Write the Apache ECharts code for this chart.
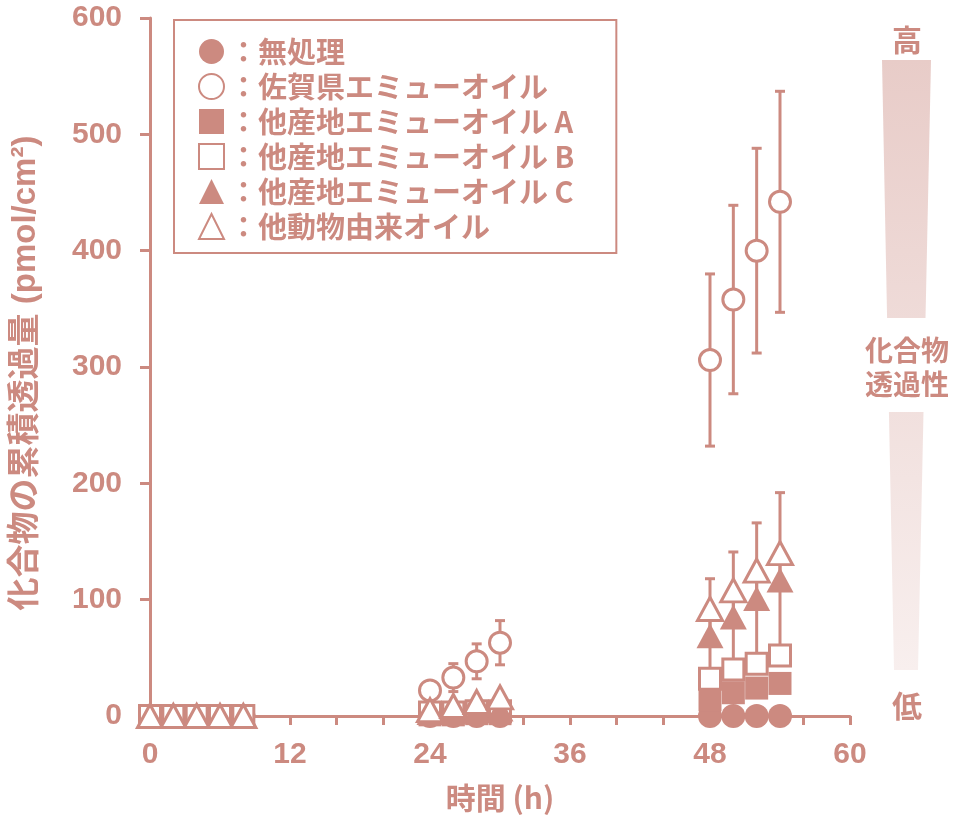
<!DOCTYPE html>
<html>
<head>
<meta charset="utf-8">
<script src="https://cdn.jsdelivr.net/npm/echarts@6/dist/echarts.min.js"></script>
<style>
  html, body { margin: 0; padding: 0; background: #fff; }
  #chart { width: 955px; height: 829px; }
</style>
</head>
<body>
<div id="chart"></div>
<script>
// 測定時間 (h)
var times = [0, 2, 4, 6, 8, 24, 26, 28, 30, 48, 50, 52, 54];

// 各試料の累積透過量と誤差 (上側・下側)
var mushoriVals = [0, 0, 0, 0, 0, 0, 0, 0, 0, 0, 0, 0, 0];
var mushoriErrUp = [0, 0, 0, 0, 0, 0, 0, 0, 0, 0, 0, 0, 0];
var mushoriErrLow = [0, 0, 0, 0, 0, 0, 0, 0, 0, 0, 0, 0, 0];
var sagaVals = [0, 0, 0, 0, 0, 22, 33, 47, 63, 306, 358, 400, 442];
var sagaErrUp = [0, 0, 0, 0, 0, 5, 12, 15, 19, 74, 81, 88, 95];
var sagaErrLow = [0, 0, 0, 0, 0, 5, 12, 15, 19, 74, 81, 88, 95];
var oilAVals = [0, 0, 0, 0, 0, 1, 1, 2, 2, 14, 20, 24, 28];
var oilAErrUp = [0, 0, 0, 0, 0, 0, 0, 0, 0, 3, 4, 5, 5];
var oilAErrLow = [0, 0, 0, 0, 0, 0, 0, 0, 0, 3, 4, 5, 5];
var oilBVals = [0, 0, 0, 0, 0, 3, 3, 4, 4, 32, 40, 45, 52];
var oilBErrUp = [0, 0, 0, 0, 0, 1, 1, 1, 1, 5, 6, 6, 7];
var oilBErrLow = [0, 0, 0, 0, 0, 1, 1, 1, 1, 5, 6, 6, 7];
var oilCVals = [0, 0, 0, 0, 0, 3, 4, 5, 6, 69, 85, 101, 117];
var oilCErrUp = [0, 0, 0, 0, 0, 1, 1, 2, 2, 18, 18, 20, 20];
var oilCErrLow = [0, 0, 0, 0, 0, 1, 1, 2, 2, 32, 48, 52, 70];
var animalVals = [0, 0, 0, 0, 0, 5, 8.6, 12, 16, 92, 108, 125, 140];
var animalErrUp = [0, 0, 0, 0, 0, 1, 1, 2, 2, 26, 33, 41, 52];
var animalErrLow = [0, 0, 0, 0, 0, 1, 1, 2, 2, 24, 26, 28, 28];

var xTicks = [0, 12, 24, 36, 48, 60];
var yTicks = [0, 100, 200, 300, 400, 500, 600];

var MAIN = '#cc8a80';
var NUM_FONT = '"Liberation Sans", Arial, "Noto Sans CJK JP", sans-serif';
var JP_FONT = '"Noto Sans CJK JP", "Liberation Sans", sans-serif';

var chart = echarts.init(document.getElementById('chart'));

function points(vals) {
    return times.map(function (t, i) { return [t, vals[i]]; });
}

function errPoints(vals, up, low) {
    return times.map(function (t, i) { return [t, vals[i] - low[i], vals[i] + up[i], up[i] + low[i]]; });
}

// 誤差棒
function errorSeries(vals, up, low) {
    return {
        type: 'custom',
        silent: true,
        z: 1,
        encode: { x: 0, y: [1, 2] },
        data: errPoints(vals, up, low),
        renderItem: function (params, api) {
            if (api.value(3) <= 0) return null;
            var x = api.value(0);
            var top = api.coord([x, api.value(2)]);
            var bot = api.coord([x, api.value(1)]);
            var w = 5;
            var st = { stroke: MAIN, lineWidth: 3 };
            return {
                type: 'group',
                children: [
                    { type: 'line', shape: { x1: top[0], y1: top[1], x2: bot[0], y2: bot[1] }, style: st },
                    { type: 'line', shape: { x1: top[0] - w, y1: top[1], x2: top[0] + w, y2: top[1] }, style: st },
                    { type: 'line', shape: { x1: bot[0] - w, y1: bot[1], x2: bot[0] + w, y2: bot[1] }, style: st }
                ]
            };
        }
    };
}

function markerSeries(name, vals, symbol, size, filled) {
    return {
        name: name,
        type: 'scatter',
        z: 3,
        symbol: symbol,
        symbolSize: size,
        data: points(vals),
        itemStyle: filled
            ? { color: MAIN, opacity: 1 }
            : { color: '#fff', borderColor: MAIN, borderWidth: 3, opacity: 1 }
    };
}

var names = ['無処理', '佐賀県エミューオイル', '他産地エミューオイル A', '他産地エミューオイル B', '他産地エミューオイル C', '他動物由来オイル'];

var option = {
    backgroundColor: '#fff',
    animation: false,
    grid: { left: 150, right: 105, top: 18, bottom: 113, containLabel: false },
    xAxis: {
        type: 'value',
        min: 0,
        max: 60,
        interval: 4,
        name: '時間 (h)',
        nameLocation: 'middle',
        nameGap: 67,
        nameTextStyle: { color: MAIN, fontSize: 30, fontWeight: 'bold', fontFamily: JP_FONT },
        axisLine: { lineStyle: { color: MAIN, width: 3 } },
        axisTick: { length: 9, lineStyle: { color: MAIN, width: 3 } },
        axisLabel: {
            color: MAIN, fontSize: 30, fontWeight: 'bold', fontFamily: NUM_FONT, margin: 24,
            formatter: function (v) { return xTicks.indexOf(v) >= 0 ? String(v) : ''; }
        },
        splitLine: { show: false }
    },
    yAxis: {
        type: 'value',
        min: 0,
        max: 600,
        interval: 100,
        name: '化合物の累積透過量 (pmol/cm²)',
        nameLocation: 'middle',
        nameGap: 108,
        nameTextStyle: { color: MAIN, fontSize: 33, fontWeight: 'bold', fontFamily: NUM_FONT, padding: [0, 12, 0, 0] },
        axisLine: { show: true, lineStyle: { color: MAIN, width: 3 } },
        axisTick: { show: true, length: 10, lineStyle: { color: MAIN, width: 3 } },
        axisLabel: {
            color: MAIN, fontSize: 30, fontWeight: 'bold', fontFamily: NUM_FONT, margin: 28,
            formatter: function (v) { return yTicks.indexOf(v) >= 0 ? String(v) : ''; }
        },
        splitLine: { show: false }
    },
    legend: {
        data: names,
        orient: 'vertical',
        left: 174,
        top: 20,
        padding: [17, 42, 12, 24],
        itemGap: 6,
        itemWidth: 25,
        itemHeight: 25,
        borderColor: MAIN,
        borderWidth: 2,
        backgroundColor: '#fff',
        selectedMode: false,
        formatter: function (n) { return '：' + n; },
        textStyle: { color: MAIN, fontSize: 29, fontWeight: 'bold', fontFamily: JP_FONT, lineHeight: 27 }
    },
    graphic: [
        {
            type: 'polygon',
            silent: true,
            shape: { points: [[882, 60], [931, 60], [918, 670], [894, 670]] },
            style: {
                fill: new echarts.graphic.LinearGradient(0, 0, 0, 1, [
                    { offset: 0, color: '#e8ccc8' },
                    { offset: 1, color: '#f8efee' }
                ])
            }
        },
        { type: 'rect', silent: true, shape: { x: 880, y: 318, width: 53, height: 94 }, style: { fill: '#fff' } },
        { type: 'text', silent: true, style: { text: '高', x: 907, y: 40, align: 'center', verticalAlign: 'middle', fill: MAIN, font: 'bold 30px ' + JP_FONT } },
        { type: 'text', silent: true, style: { text: '化合物', x: 907, y: 350, align: 'center', verticalAlign: 'middle', fill: MAIN, font: 'bold 28px ' + JP_FONT } },
        { type: 'text', silent: true, style: { text: '透過性', x: 907, y: 384, align: 'center', verticalAlign: 'middle', fill: MAIN, font: 'bold 28px ' + JP_FONT } },
        { type: 'text', silent: true, style: { text: '低', x: 907, y: 706, align: 'center', verticalAlign: 'middle', fill: MAIN, font: 'bold 30px ' + JP_FONT } }
    ],
    series: [
        errorSeries(mushoriVals, mushoriErrUp, mushoriErrLow),
        errorSeries(sagaVals, sagaErrUp, sagaErrLow),
        errorSeries(oilAVals, oilAErrUp, oilAErrLow),
        errorSeries(oilBVals, oilBErrUp, oilBErrLow),
        errorSeries(oilCVals, oilCErrUp, oilCErrLow),
        errorSeries(animalVals, animalErrUp, animalErrLow),
        markerSeries(names[0], mushoriVals, 'circle', 24, true),
        markerSeries(names[1], sagaVals, 'circle', 21, false),
        markerSeries(names[2], oilAVals, 'rect', 23, true),
        markerSeries(names[3], oilBVals, 'rect', 21, false),
        markerSeries(names[4], oilCVals, 'triangle', [27, 25], true),
        markerSeries(names[5], animalVals, 'triangle', [25, 23], false)
    ]
};

chart.setOption(option);
</script>
</body>
</html>
